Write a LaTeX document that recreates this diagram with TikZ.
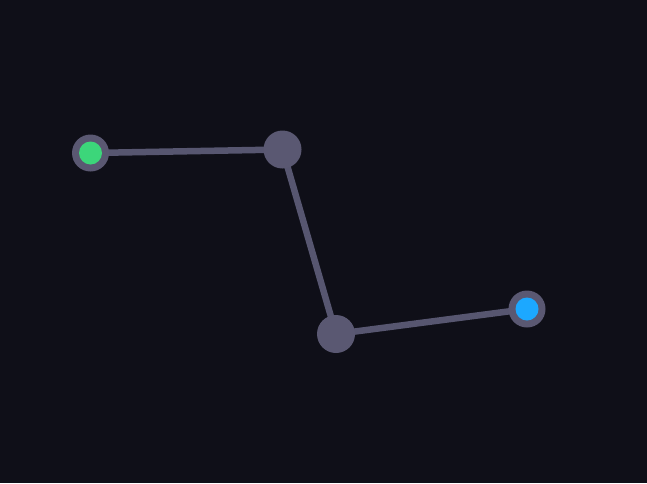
\documentclass[tikz,border=0pt]{standalone}
\usetikzlibrary{backgrounds}
\definecolor{bg}{HTML}{0F0F18}
\definecolor{edgec}{HTML}{575670}
\definecolor{nodec}{HTML}{5A5872}
\definecolor{greenc}{HTML}{3CD67A}
\definecolor{bluec}{HTML}{1CA8FF}
\begin{document}
\begin{tikzpicture}[x=1pt,y=-1pt,
  hub/.style={circle,fill=nodec,minimum size=38pt,inner sep=0pt},
  endpt/.style={circle,fill=nodec,minimum size=37pt,inner sep=0pt},
  dotc/.style={circle,minimum size=23pt,inner sep=0pt},
  link/.style={draw=edgec,line width=6.5pt}]
\node[endpt] (na) at (90.5,153) {};
\node[hub] (nb) at (282.5,149.5) {};
\node[hub] (nc) at (336,334) {};
\node[endpt] (nd) at (527,309) {};
\node[dotc,fill=greenc] (ga) at (na.center) {};
\node[dotc,fill=bluec] (gd) at (nd.center) {};
\begin{scope}[on background layer]
\fill[bg] (0,0) rectangle (647,483);
\draw[link] (na.center) -- (nb.center) -- (nc.center) -- (nd.center);
\end{scope}
\useasboundingbox (0,0) rectangle (647,483);
\end{tikzpicture}
\end{document}
